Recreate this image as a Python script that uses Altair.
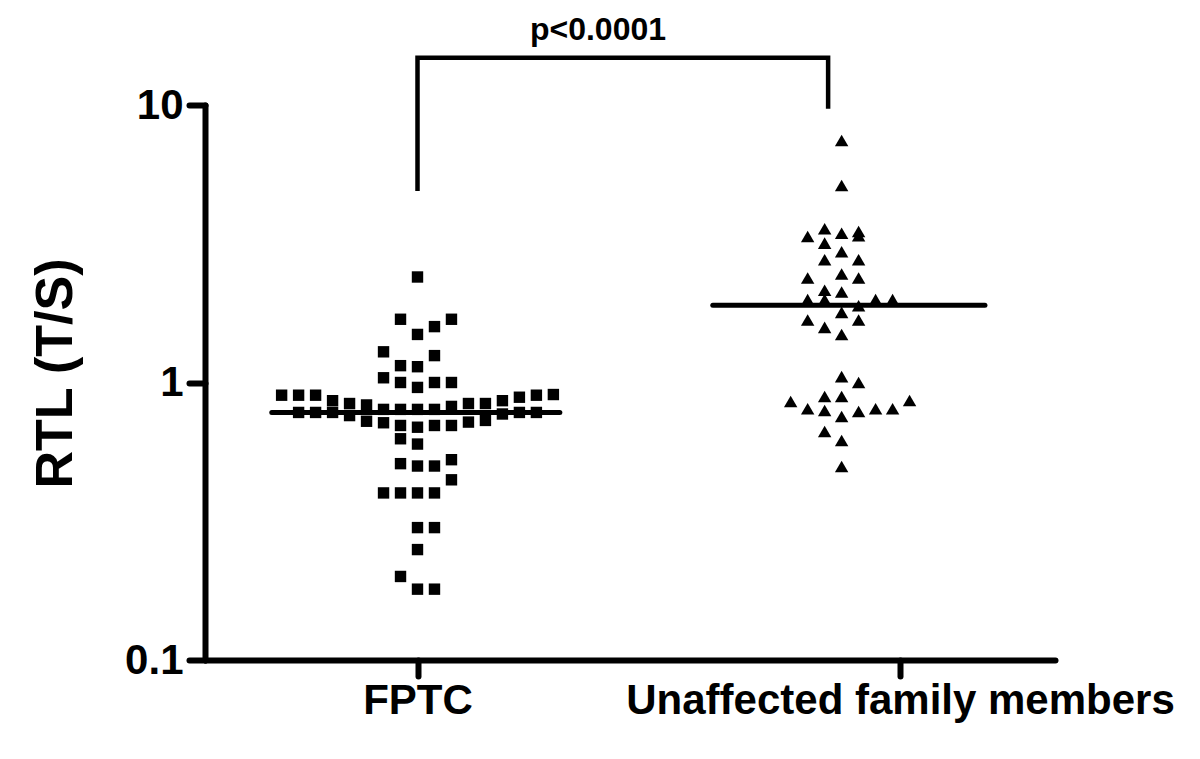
import altair as alt
import pandas as pd

# ---- data ----
categories = ["FPTC", "Unaffected family members"]
category_pos = [1.0, 2.0]          # axis tick positions of the two groups
group_center = [1.0, 1.879]        # where each column of points is centred
col_step = 0.0352                  # horizontal spacing between point columns

fptc_values = [2.40, 1.69, 1.69, 1.59, 1.49, 1.29, 1.25, 1.15, 1.14,
               1.04, 1.00, 0.96, 1.00, 1.00,
               0.90, 0.90, 0.90, 0.86, 0.84, 0.83, 0.80, 0.80, 0.80, 0.80,
               0.82, 0.84, 0.84, 0.86, 0.885, 0.90, 0.905,
               0.78, 0.78, 0.78, 0.76, 0.725, 0.716, 0.70, 0.69, 0.70, 0.70,
               0.72, 0.73, 0.77, 0.78, 0.78,
               0.627, 0.60, 0.51, 0.50, 0.50, 0.527, 0.446,
               0.40, 0.40, 0.40, 0.40, 0.30, 0.30, 0.25, 0.20, 0.18, 0.18]
fptc_cols = [0, -1, 2, 1, 0, -2, 1, -1, 0,
             -2, -1, 0, 1, 2,
             -8, -7, -6, -5, -4, -3, -2, -1, 0, 1,
             2, 3, 4, 5, 6, 7, 8,
             -7, -6, -5, -4, -3, -2, -1, 0, 1, 2,
             3, 4, 5, 6, 7,
             -1, 0, -1, 0, 1, 2, 2,
             -2, -1, 0, 1, 0, 1, 0, -1, 0, 1]

unaff_values = [7.45, 5.13, 3.36, 3.58, 3.45, 3.50, 3.38, 3.18, 2.96, 2.77,
                2.77, 2.46, 2.38, 2.38, 2.15, 2.12, 1.99, 1.99, 1.99, 1.99,
                1.89, 1.79, 1.68, 1.68, 1.58, 1.49, 1.05, 1.00, 0.854, 0.89,
                0.89, 0.804, 0.793, 0.754, 0.786, 0.804, 0.804, 0.861, 0.666,
                0.618, 0.498]
unaff_cols = [0, 0, -2, -1, 0, 1, 1, -1, 0, -1,
              1, 0, -2, 1, -1, 0, -2, -1, 2, 3,
              1, 0, -2, 1, -1, 0, 0, 1, -3, -1,
              0, -2, -1, 0, 1, 2, 3, 4, -1,
              0, 0]

medians = [0.78, 1.9]
median_x_start = [0.698, 1.612]
median_x_end = [1.295, 2.176]

bracket_x = [1.0, 1.0, 1.851, 1.851]
bracket_y = [4.9, 14.8, 14.8, 9.7]
p_label = "p<0.0001"
p_label_x = 1.374
p_label_y = 18.6

x_domain = [0.5596, 2.3212]
y_ticks = [0.1, 1, 10]

# ---- tables ----
fptc_df = pd.DataFrame({
    "x": [group_center[0] + k * col_step for k in fptc_cols],
    "y": fptc_values,
})
unaff_df = pd.DataFrame({
    "x": [group_center[1] + k * col_step for k in unaff_cols],
    "y": unaff_values,
})
median_df = pd.DataFrame({"x": median_x_start, "x2": median_x_end, "y": medians})
bracket_df = pd.DataFrame({"x": bracket_x, "y": bracket_y, "o": list(range(len(bracket_x)))})
text_df = pd.DataFrame({"x": [p_label_x], "y": [p_label_y], "t": [p_label]})

FONT = "Liberation Sans"

x_label_expr = " : ".join(
    [f"datum.value == {p} ? '{c}'" for p, c in zip(category_pos, categories)] + ["''"]
)

X = alt.X("x:Q",
          scale=alt.Scale(domain=x_domain, nice=False, zero=False),
          axis=alt.Axis(values=category_pos, labelExpr=x_label_expr, title=None,
                        labelFontSize=42, labelPadding=4, labelFlush=False,
                        labelOverlap=False, labelLimit=0))
Y = alt.Y("y:Q",
          scale=alt.Scale(type="log", domain=[0.1, 10], nice=False),
          axis=alt.Axis(values=y_ticks, format="~g", title="RTL (T/S)",
                        labelFontSize=42, labelPadding=6, labelFlush=False,
                        labelLimit=0,
                        titleFontSize=52, titleX=-150, titleY=268,
                        titleAngle=270, titleAlign="center", titleBaseline="middle"))

fptc_layer = alt.Chart(fptc_df).mark_point(
    shape="square", filled=True, size=130, color="black", opacity=1
).encode(x=X, y=Y)

unaff_layer = alt.Chart(unaff_df).mark_point(
    shape="triangle-up", filled=True, size=180, color="black", opacity=1
).encode(x=X, y=Y)

median_layer = alt.Chart(median_df).mark_rule(
    color="black", strokeWidth=5, strokeCap="round"
).encode(x=X, x2="x2:Q", y=Y)

bracket_layer = alt.Chart(bracket_df).mark_line(
    color="black", strokeWidth=4.5, strokeJoin="miter", strokeCap="butt"
).encode(x=X, y=Y, order="o:Q")

text_layer = alt.Chart(text_df).mark_text(
    font=FONT, fontWeight="bold", fontSize=32, color="black",
    align="center", baseline="middle"
).encode(x=X, y=Y, text="t:N")

chart = alt.layer(
    median_layer, fptc_layer, unaff_layer, bracket_layer, text_layer
).properties(
    width=850, height=555,
    autosize=alt.AutoSizeParams(type="none"),
    padding={"left": 197, "top": 97, "right": 137, "bottom": 91},
    background="white",
).configure_view(
    stroke=None
).configure_axis(
    grid=False,
    domainColor="black", domainWidth=6, domainCap="round",
    tickColor="black", tickWidth=6, tickSize=16, tickCap="round",
    labelColor="black", labelFont=FONT, labelFontWeight="bold",
    titleColor="black", titleFont=FONT, titleFontWeight="bold",
)

chart.save("out.html", embed_options={"renderer": "svg", "actions": False})
